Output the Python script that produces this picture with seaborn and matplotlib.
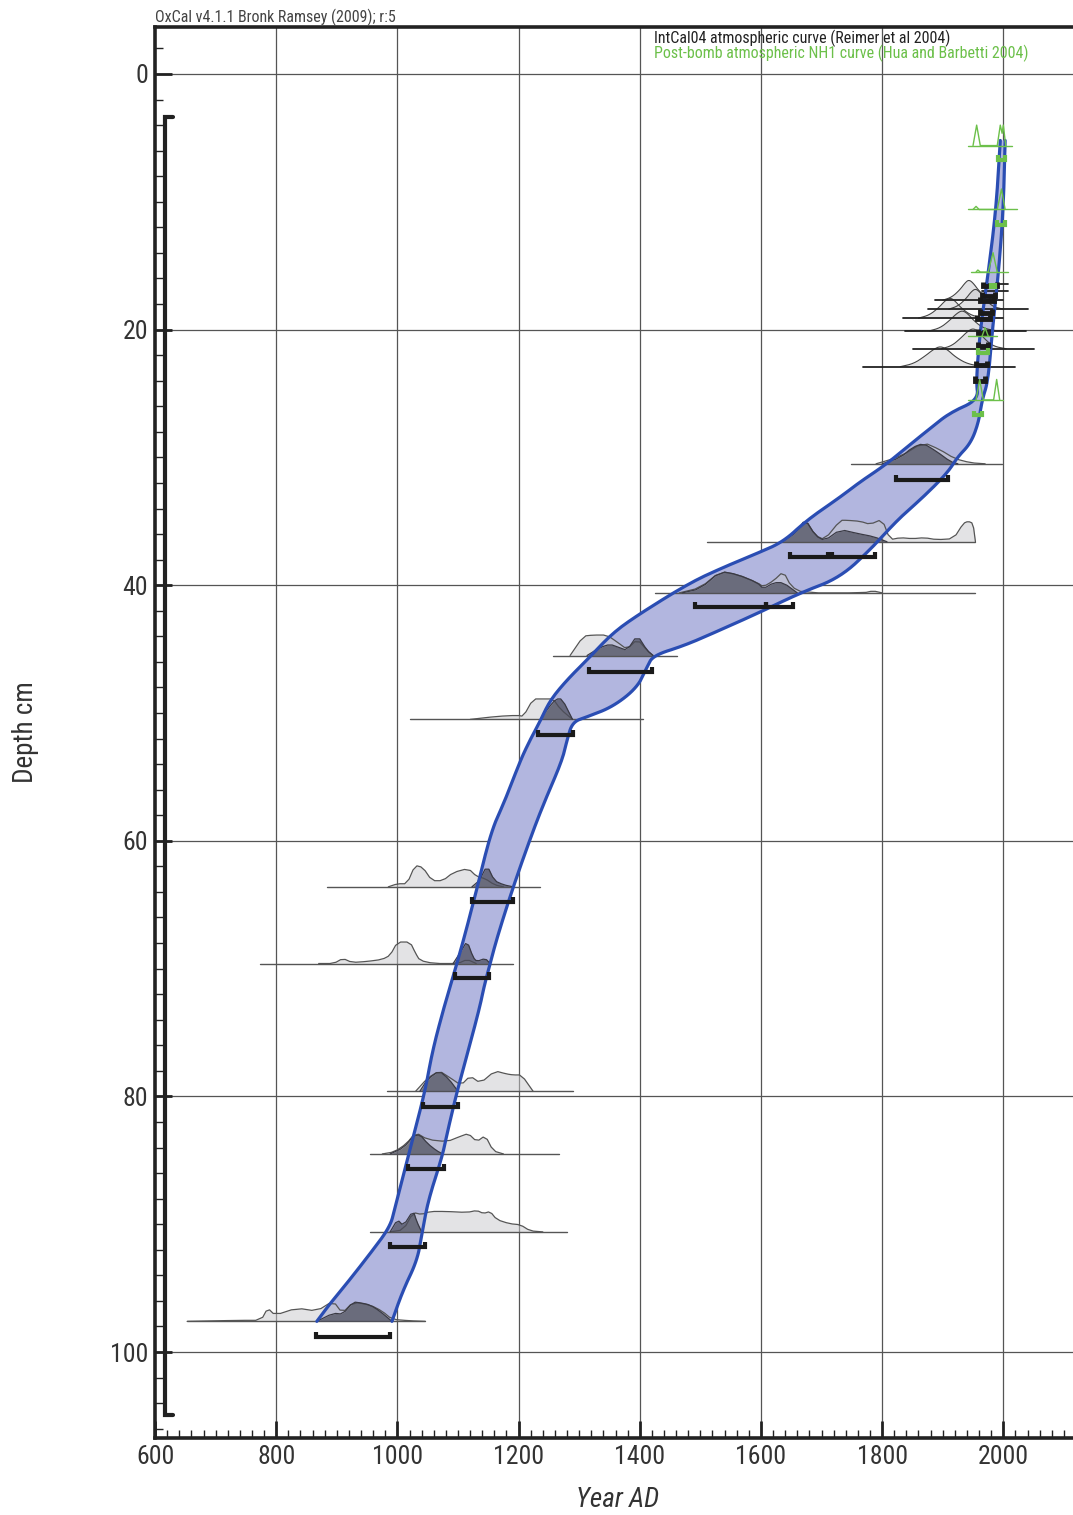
import numpy as np
import pandas as pd
import matplotlib
matplotlib.use("Agg")
import matplotlib.pyplot as plt
import seaborn as sns
from matplotlib import font_manager as fm
from matplotlib.ticker import MultipleLocator

# ---------------- data ----------------
# age-depth envelope (older / younger edge)
band_left_depth = [5.2, 10.6, 15.6, 20.0, 24.0, 25.5, 26.5, 27.7, 29.0, 30.6, 31.9, 33.1, 34.9, 36.6, 37.5,
                   38.6, 39.8, 42.2, 43.7, 45.6, 47.4, 49.0, 50.6, 52.1, 53.7, 56.8, 59.2, 63.6, 67.8, 71.1,
                   73.0, 76.4, 79.5, 83.2, 88.7, 90.2, 92.3, 94.6, 96.2, 97.6]
band_left_year = [1995, 1988, 1975, 1962, 1955, 1959, 1912, 1880, 1846, 1805, 1764, 1731, 1676, 1637, 1594,
                  1538, 1483, 1401, 1356, 1318, 1280, 1252, 1236, 1219, 1203, 1178, 1155, 1132, 1109, 1089,
                  1077, 1058, 1046, 1026, 996, 988, 955, 917, 889, 867]
band_right_depth = [5.2, 10.6, 15.6, 20.0, 24.0, 25.5, 27.3, 28.9, 30.0, 31.2, 33.1, 34.9, 37.0, 39.4, 40.6,
                    42.1, 43.5, 44.7, 45.5, 46.4, 48.0, 49.5, 50.3, 50.7, 52.1, 53.7, 56.8, 59.2, 63.6, 67.5,
                    69.6, 71.4, 73.0, 76.4, 79.5, 82.9, 84.7, 88.1, 90.6, 92.8, 95.2, 97.6]
band_right_year = [2003, 2000, 1992, 1982, 1975, 1965, 1959, 1946, 1924, 1908, 1868, 1825, 1785, 1731, 1665,
                   1599, 1533, 1475, 1422, 1412, 1396, 1356, 1313, 1289, 1280, 1272, 1244, 1224, 1191, 1165,
                   1153, 1143, 1136, 1117, 1099, 1082, 1074, 1051, 1041, 1033, 1009, 991]

# dated levels: depth, baseline span, likelihood (light) and posterior (dark) shapes [(year, rel. height)]
sample_depths = [97.6, 90.6, 84.5, 79.6, 69.6, 63.6, 50.5, 45.5, 40.6, 36.6, 30.5]
baseline_spans = [(653, 1046), (955, 1280), (955, 1266), (983, 1290), (773, 1191), (884, 1236),
                  (1021, 1406), (1257, 1462), (1425, 1954), (1511, 1954), (1748, 1998)]

light_976 = [(653, 0), (740, 0.05), (775, 0.05), (786, 0.65), (798, 0.3), (834, 0.65), (867, 0.5), (894, 1.0),
             (909, 0.4), (927, 0.95), (955, 0.8), (975, 0.5), (991, 0.1), (1020, 0.03), (1046, 0)]
dark_976 = [(867, 0), (894, 0.4), (910, 0.35), (927, 0.95), (940, 0.9), (955, 0.8), (971, 0.5), (991, 0)]
light_906 = [(988, 0), (1010, 0.1), (1026, 0.95), (1040, 0.85), (1054, 1.0), (1080, 1.0), (1115, 0.95),
             (1131, 1.05), (1142, 0.9), (1153, 1.0), (1164, 0.6), (1185, 0.4), (1203, 0.35), (1219, 0.05), (1240, 0)]
dark_906 = [(988, 0), (1000, 0.6), (1010, 0.3), (1026, 1.05), (1032, 0.5), (1040, 0)]
light_845 = [(975, 0), (995, 0.1), (1015, 0.5), (1030, 1.05), (1050, 0.7), (1082, 0.6), (1103, 0.85),
             (1117, 1.0), (1131, 0.6), (1145, 0.9), (1158, 0.15), (1175, 0)]
dark_845 = [(988, 0), (1010, 0.3), (1026, 0.85), (1037, 0.95), (1050, 0.5), (1065, 0.15), (1075, 0)]
light_796 = [(1030, 0), (1050, 0.65), (1069, 1.0), (1085, 0.7), (1105, 0.3), (1120, 0.75), (1137, 0.4),
             (1161, 1.0), (1180, 0.85), (1191, 0.8), (1205, 0.8), (1224, 0)]
dark_796 = [(1037, 0), (1050, 0.6), (1069, 1.0), (1085, 0.6), (1100, 0)]
light_696 = [(870, 0), (895, 0.0), (910, 0.25), (925, 0.05), (950, 0.1), (975, 0.2), (988, 0.4), (1000, 1.05),
             (1021, 1.05), (1030, 0.5), (1037, 0.15), (1060, 0), (1100, 0), (1115, 0.2), (1130, 0)]
dark_696 = [(1092, 0), (1105, 0.6), (1115, 1.1), (1125, 0.3), (1131, 0.1), (1145, 0.25), (1153, 0)]
light_636 = [(985, 0), (1000, 0.15), (1016, 0.15), (1029, 1.05), (1042, 0.95), (1057, 0.3), (1075, 0.3),
             (1092, 0.7), (1117, 0.9), (1131, 0.5), (1145, 0.4), (1160, 0.1), (1175, 0)]
dark_636 = [(1123, 0), (1135, 0.3), (1148, 1.05), (1160, 0.3), (1175, 0.1), (1191, 0)]
light_505 = [(1120, 0), (1165, 0.15), (1198, 0.2), (1208, 0.15), (1224, 1.0), (1241, 1.0), (1257, 1.0),
             (1269, 0.5), (1289, 0)]
dark_505 = [(1236, 0), (1250, 0.6), (1262, 1.0), (1272, 1.0), (1289, 0)]
light_455 = [(1285, 0), (1307, 0.95), (1323, 1.0), (1346, 1.0), (1363, 0.65), (1379, 0.3), (1396, 0.8),
             (1412, 0.25), (1422, 0)]
dark_455 = [(1313, 0), (1335, 0.4), (1351, 0.55), (1365, 0.4), (1379, 0.25), (1396, 1.0), (1412, 0.25), (1422, 0)]
light_406 = [(1465, 0), (1500, 0.25), (1533, 1.05), (1561, 0.9), (1594, 0.5), (1604, 0.3), (1621, 0.6),
             (1637, 1.05), (1650, 0.3), (1670, 0), (1770, 0), (1785, 0.1), (1800, 0)]
dark_406 = [(1470, 0), (1500, 0.2), (1533, 1.05), (1561, 0.9), (1594, 0.5), (1604, 0.2), (1621, 0.5),
            (1637, 0.5), (1660, 0)]
light_366 = [(1635, 0), (1660, 0.5), (1673, 1.1), (1690, 0.3), (1705, 0.1), (1731, 1.05), (1742, 1.05),
             (1764, 1.0), (1780, 0.85), (1800, 1.1), (1813, 0.1), (1830, 0.2), (1850, 0.15), (1870, 0.2),
             (1890, 0.1), (1918, 0.15), (1934, 0.9), (1942, 1.0), (1950, 0.9), (1954, 0)]
dark_366 = [(1635, 0), (1660, 0.5), (1673, 1.1), (1690, 0.3), (1705, 0.05), (1731, 0.6), (1760, 0.4),
            (1786, 0.25), (1808, 0)]
light_305 = [(1790, 0), (1830, 0.35), (1868, 1.05), (1895, 0.7), (1920, 0.25), (1946, 0.05), (1970, 0)]
dark_305 = [(1800, 0), (1830, 0.3), (1850, 0.8), (1868, 1.0), (1890, 0.6), (1913, 0.1), (1925, 0)]

light_shapes = [light_976, light_906, light_845, light_796, light_696, light_636, light_505, light_455,
                light_406, light_366, light_305]
dark_shapes = [dark_976, dark_906, dark_845, dark_796, dark_696, dark_636, dark_505, dark_455,
               dark_406, dark_366, dark_305]

# 95% ranges of the modelled dates
range_depths = [98.8, 91.8, 85.7, 80.8, 70.7, 64.8, 51.7, 46.8, 41.7, 41.7, 37.8, 37.8, 31.8]
range_from = [866, 988, 1018, 1042, 1095, 1123, 1232, 1317, 1491, 1608, 1648, 1718, 1823]
range_to = [988, 1046, 1077, 1100, 1151, 1191, 1289, 1420, 1608, 1653, 1710, 1789, 1909]

# upper (20th century) levels
top_depths = [17.7, 18.4, 19.1, 20.1, 21.5, 22.9]
top_spans = [(1888, 2000), (1876, 2040), (1835, 2000), (1838, 2037), (1851, 2050), (1769, 2020)]
top_17 = [(1900, 0), (1915, 0.15), (1928, 0.5), (1937, 0.85), (1943, 1.0), (1950, 0.85), (1960, 0.45), (1972, 0.12), (1990, 0)]
top_18 = [(1910, 0), (1925, 0.15), (1938, 0.5), (1947, 0.85), (1954, 1.0), (1961, 0.85), (1971, 0.45), (1983, 0.12), (2000, 0)]
top_19 = [(1860, 0), (1878, 0.15), (1893, 0.5), (1904, 0.85), (1912, 1.0), (1920, 0.85), (1932, 0.45), (1948, 0.12), (1970, 0)]
top_20 = [(1878, 0), (1896, 0.15), (1911, 0.5), (1923, 0.85), (1932, 1.0), (1941, 0.85), (1953, 0.45), (1968, 0.12), (1990, 0)]
top_21 = [(1898, 0), (1915, 0.15), (1929, 0.5), (1941, 0.85), (1950, 1.0), (1959, 0.85), (1970, 0.45), (1984, 0.12), (2005, 0)]
top_22 = [(1830, 0), (1852, 0.15), (1870, 0.5), (1885, 0.85), (1896, 1.0), (1907, 0.85), (1922, 0.45), (1942, 0.12), (1970, 0)]
top_shapes = [top_17, top_18, top_19, top_20, top_21, top_22]
short_line_depths = [16.4, 17.0]
short_line_spans = [(1973, 2007), (1965, 2007)]
top_range_depths = [16.6, 17.4, 17.8, 18.7, 19.2, 20.3, 21.3, 22.8, 24.0]
top_range_from = [1967, 1965, 1962, 1962, 1957, 1959, 1959, 1955, 1954]
top_range_to = [1990, 1987, 1984, 1981, 1978, 1975, 1975, 1973, 1970]

# post-bomb levels (green)
bomb_depths = [5.6, 10.6, 15.5, 20.5, 25.5]
bomb_spans = [(1941, 2015), (1941, 2023), (1946, 2008), (1941, 1990), (1941, 2000)]
bomb_56 = [(1950, 0), (1956, 1.0), (1962, 0), (1990, 0), (1995, 1.0), (1998, 0.6), (2000, 1.0), (2004, 0)]
bomb_106 = [(1950, 0), (1955, 0.15), (1960, 0), (1990, 0), (1997, 1.0), (2003, 0)]
bomb_155 = [(1955, 0), (1958, 0.1), (1962, 0), (1975, 0), (1983, 0.95), (1990, 0)]
bomb_205 = [(1965, 0), (1970, 0.4), (1975, 0)]
bomb_255 = [(1955, 0), (1961, 1.0), (1967, 0), (1984, 0), (1989, 1.0), (1994, 0)]
bomb_shapes = [bomb_56, bomb_106, bomb_155, bomb_205, bomb_255]
bomb_range_depths = [6.7, 11.8, 16.7, 21.8, 26.7]
bomb_range_from = [1992, 1989, 1979, 1959, 1952]
bomb_range_to = [2003, 2002, 1987, 1974, 1965]

model_span = (3.4, 104.9)

x_ticks = [600, 800, 1000, 1200, 1400, 1600, 1800, 2000]
y_ticks = [0, 20, 40, 60, 80, 100]

# ---------------- style ----------------
sns.set_theme(style="white")


def pick_font(cands):
    for c in cands:
        try:
            fm.findfont(fm.FontProperties(family=c), fallback_to_default=False)
            return c
        except Exception:
            continue
    return "DejaVu Sans"


narrow = pick_font(["Liberation Sans Narrow", "Roboto Condensed", "Liberation Sans", "DejaVu Sans"])
plt.rcParams["font.family"] = [narrow, "DejaVu Sans"]

BAND_FILL = "#b2b6df"
BAND_EDGE = "#2a4db3"
LIGHT = "#c9c9cc"
DARK = "#4b4c5a"
GREEN = "#6cc04a"
HSCALE = 1.6  # relative height 1 -> cm


def chaikin(xs, ys, n=2):
    """Corner-cutting for a smoother drawn outline (endpoints kept)."""
    p = np.column_stack([xs, ys]).astype(float)
    for _ in range(n):
        q = [p[0]]
        for a, b in zip(p[:-1], p[1:]):
            q.append(0.75 * a + 0.25 * b)
            q.append(0.25 * a + 0.75 * b)
        q.append(p[-1])
        p = np.array(q)
    return p[:, 0], p[:, 1]


fig = plt.figure(figsize=(10.73, 15.15), dpi=100)
ax = fig.add_axes([0.1445, 0.0508, 0.8555, 0.9314])
ax.set_xlim(600, 2115)
ax.set_ylim(106.73, -3.68)

# grid
for xv in x_ticks[1:]:
    ax.axvline(xv, color="#555555", lw=0.9, zorder=0.5)
for yv in y_ticks:
    ax.axhline(yv, color="#555555", lw=0.9, zorder=0.5)

# envelope
lx, ly = chaikin(band_left_year, band_left_depth, 3)
rx, ry = chaikin(band_right_year, band_right_depth, 3)
ax.fill(np.concatenate([lx, rx[::-1]]), np.concatenate([ly, ry[::-1]]), color=BAND_FILL, zorder=1, lw=0)
sns.lineplot(x=lx, y=ly, sort=False, estimator=None, ax=ax, color=BAND_EDGE, lw=2.3, zorder=4)
sns.lineplot(x=rx, y=ry, sort=False, estimator=None, ax=ax, color=BAND_EDGE, lw=2.3, zorder=4)


def draw_shape(pts, depth, fill, alpha, edge, z, lw=0.9, smooth=0):
    xs = [p[0] for p in pts]
    hs = [p[1] for p in pts]
    if smooth:
        xs, hs = chaikin(xs, hs, smooth)
    xs = np.asarray(xs)
    ys = depth - np.asarray(hs) * HSCALE
    if fill is not None:
        ax.fill_between(xs, np.full(len(xs), depth), ys, color=fill, alpha=alpha, lw=0, zorder=z)
    ax.plot(xs, ys, color=edge, lw=lw, zorder=z + 0.1)


def bracket(y0, y1, d, color, lw=3.0, cap=0.4, z=6):
    ax.plot([y0, y0, y1, y1], [d - cap, d, d, d - cap], color=color, lw=lw, zorder=z,
            solid_joinstyle="miter", solid_capstyle="butt")


for d, span, lt, dk in zip(sample_depths, baseline_spans, light_shapes, dark_shapes):
    ax.plot(span, [d, d], color="#555555", lw=1.0, zorder=2.5)
    draw_shape(lt, d, LIGHT, 0.5, "#555555", 2, smooth=1)
    draw_shape(dk, d, DARK, 0.72, "#3a3a44", 3, smooth=1)

for y0, y1, d in zip(range_from, range_to, range_depths):
    bracket(y0, y1, d, "#1a1a1a")

for d, span, sh in zip(top_depths, top_spans, top_shapes):
    ax.plot(span, [d, d], color="#222222", lw=1.3, zorder=2.5)
    draw_shape(sh, d, LIGHT, 0.5, "#444444", 2, lw=0.8, smooth=2)
for d, span in zip(short_line_depths, short_line_spans):
    ax.plot(span, [d, d], color="#222222", lw=1.3, zorder=2.5)
for y0, y1, d in zip(top_range_from, top_range_to, top_range_depths):
    bracket(y0, y1, d, "#1a1a1a", lw=3.5, cap=0.35)

for d, span, sh in zip(bomb_depths, bomb_spans, bomb_shapes):
    ax.plot(span, [d, d], color=GREEN, lw=1.0, zorder=6.5)
    draw_shape(sh, d, None, 1, GREEN, 6.5, lw=1.0)
for y0, y1, d in zip(bomb_range_from, bomb_range_to, bomb_range_depths):
    bracket(y0, y1, d, GREEN, lw=3.0, cap=0.35, z=7)

# whole-model bracket
ax.plot([630, 617, 617, 630], [model_span[0], model_span[0], model_span[1], model_span[1]],
        color="#222222", lw=3, zorder=6, solid_joinstyle="miter")

# axes
for s in ["left", "bottom", "top"]:
    ax.spines[s].set_visible(True)
    ax.spines[s].set_color("#222222")
    ax.spines[s].set_linewidth(2.6)
ax.spines["right"].set_visible(False)
ax.set_xticks(x_ticks)
ax.set_yticks(y_ticks)
ax.xaxis.set_minor_locator(MultipleLocator(20))
ax.yaxis.set_minor_locator(MultipleLocator(2))
ax.tick_params(which="major", direction="in", length=12, width=2, color="#222222",
               labelsize=18.5, labelcolor="#333333", bottom=True, left=True, top=False, right=False, pad=5)
ax.tick_params(which="minor", direction="in", length=6, width=1, color="#222222",
               bottom=True, left=True, top=False, right=False)
ax.set_xlabel("")
ax.set_ylabel("")

fig.text(0.576, 0.0099, "Year AD", fontsize=19.5, style="italic", color="#333333", ha="center", va="center")
fig.text(0.024, 0.517, "Depth cm", fontsize=19.5, rotation=90, color="#333333", ha="center", va="center")
fig.text(0.1445, 0.9885, "OxCal v4.1.1 Bronk Ramsey (2009); r:5", fontsize=11.5, color="#444444",
         ha="left", va="center")
fig.text(0.6095, 0.9745, "IntCal04 atmospheric curve (Reimer et al 2004)", fontsize=11.5, color="#222222",
         ha="left", va="center")
fig.text(0.6095, 0.9650, "Post-bomb atmospheric NH1 curve (Hua and Barbetti 2004)", fontsize=11.5, color=GREEN,
         ha="left", va="center")

fig.savefig("out.png", dpi=100)
